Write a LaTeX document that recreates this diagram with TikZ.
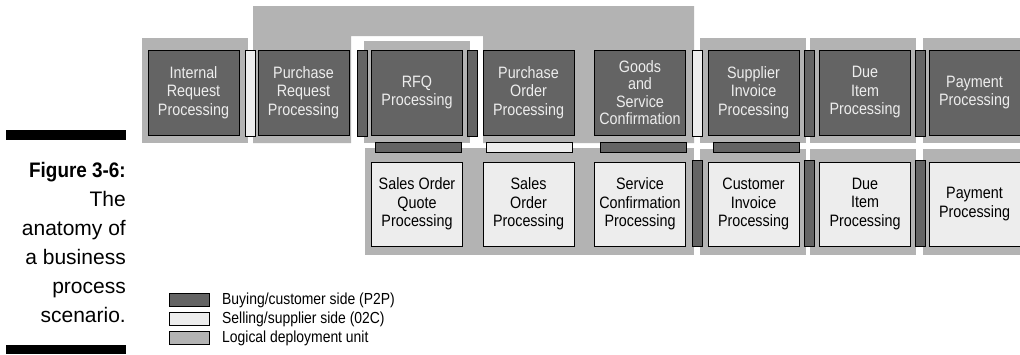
\documentclass[tikz,border=0pt]{standalone}
\usepackage{fontspec}
\setmainfont[FakeStretch=0.87]{Liberation Sans}
\newfontfamily\capfont[BoldFeatures={FakeStretch=0.9}]{Liberation Sans}
\definecolor{unitgray}{HTML}{B3B3B3}
\definecolor{buyfill}{HTML}{646464}
\definecolor{sellfill}{HTML}{EDEDED}
\begin{document}
\begin{tikzpicture}[x=1pt,y=-1pt,
    box/.style={draw=black,line width=0.9pt,minimum width=91pt,minimum height=85pt,
      inner sep=0pt,align=center,font=\fontsize{16.5}{18.5}\selectfont},
    buy/.style={box,fill=buyfill,text=sellfill},
    sell/.style={box,fill=sellfill,text=black,minimum height=84pt},
    vsep/.style={draw=black,line width=0.9pt,minimum width=10pt,minimum height=86pt,inner sep=0pt},
    hsep/.style={draw=black,line width=0.9pt,minimum width=86pt,minimum height=10pt,inner sep=0pt},
    capline/.style={anchor=base east,inner sep=0pt,font=\capfont\fontsize{21}{25}\selectfont},
    key/.style={draw=black,line width=0.7pt,minimum width=40pt,minimum height=13pt,inner sep=0pt},
    keytext/.style={anchor=west,inner sep=0pt,font=\fontsize{16}{18}\selectfont}]
        \useasboundingbox (0,0) rectangle (1020,354);
        \fill[unitgray] (142,38) rectangle (248,143);
        \fill[unitgray] (253,6) -- (694,6) -- (694,143) -- (483,143) -- (483,36)
          -- (351,36) -- (351,143) -- (253,143) -- cycle;
        \fill[unitgray] (364,41) rectangle (470,143);
        \fill[unitgray] (700,38) rectangle (806,143);
        \fill[unitgray] (810,38) rectangle (916,143);
        \fill[unitgray] (923,38) rectangle (1020,143);
        \fill[unitgray] (365,148) rectangle (694,255);
        \fill[unitgray] (700,149) rectangle (806,255);
        \fill[unitgray] (810,149) rectangle (916,255);
        \fill[unitgray] (923,149) rectangle (1020,255);
        \node[buy] (A0_0) at (193.5,92.5) {Internal\\Request\\Processing};
        \node[buy] (A0_1) at (303.5,92.5) {Purchase\\Request\\Processing};
        \node[buy] (A0_2) at (417,92.5) {RFQ\\Processing};
        \node[buy] (A0_3) at (528.5,92.5) {Purchase\\Order\\Processing};
        \node[buy,font=\fontsize{16.5}{17.5}\selectfont] (A0_4) at (640,92.5) {Goods\\and\\Service\\Confirmation};
        \node[buy] (A0_5) at (753.5,92.5) {Supplier\\Invoice\\Processing};
        \node[buy] (A0_6) at (865,92.5) {Due\\Item\\Processing};
        \node[buy] (A0_7) at (974.5,92.5) {Payment\\Processing};
        \node[sell] (A1_2) at (417,204) {Sales Order\\Quote\\Processing};
        \node[sell] (A1_3) at (528.5,204) {Sales\\Order\\Processing};
        \node[sell] (A1_4) at (640,204) {Service\\Confirmation\\Processing};
        \node[sell] (A1_5) at (753.5,204) {Customer\\Invoice\\Processing};
        \node[sell] (A1_6) at (865,204) {Due\\Item\\Processing};
        \node[sell] (A1_7) at (974.5,204) {Payment\\Processing};
        \node[vsep,fill=sellfill] (S0_1) at (250,93) {};
        \node[vsep,fill=buyfill] (S0_2) at (362,93) {};
        \node[vsep,fill=buyfill] (S0_3) at (472,93) {};
        \node[vsep,fill=sellfill] (S0_5) at (697,93) {};
        \node[vsep,fill=buyfill] (S0_6) at (809,93) {};
        \node[vsep,fill=buyfill] (S0_7) at (920,93) {};
        \node[vsep,fill=buyfill] (S1_5) at (697,203) {};
        \node[vsep,fill=buyfill] (S1_6) at (809,203) {};
        \node[vsep,fill=buyfill] (S1_7) at (920,203) {};
        \node[hsep,fill=buyfill] (H_2) at (418,147) {};
        \node[hsep,fill=sellfill] (H_3) at (529,147) {};
        \node[hsep,fill=buyfill] (H_4) at (643,147) {};
        \node[hsep,fill=buyfill] (H_5) at (756,147) {};
        \fill[black] (6,130) rectangle (126,140);
        \fill[black] (6,345) rectangle (126,354);
        \node[capline,font=\capfont\bfseries\fontsize{21}{25}\selectfont] (cap0) at (126,177) {Figure 3-6:};
        \foreach \t [count=\i] in {The,anatomy of,a business,process,scenario.}
          \node[capline] (cap\i) at (126,177+29*\i) {\t};
        \node[key,fill=buyfill] (K0) at (189,300) {};
        \node[key,fill=sellfill] (K1) at (189,319) {};
        \node[key,fill=unitgray] (K2) at (189,338) {};
        \node[keytext] (L0) at (222,300) {Buying/customer side (P2P)};
        \node[keytext] (L1) at (222,319) {Selling/supplier side (02C)};
        \node[keytext] (L2) at (222,338) {Logical deployment unit};
      \end{tikzpicture}
\end{document}
